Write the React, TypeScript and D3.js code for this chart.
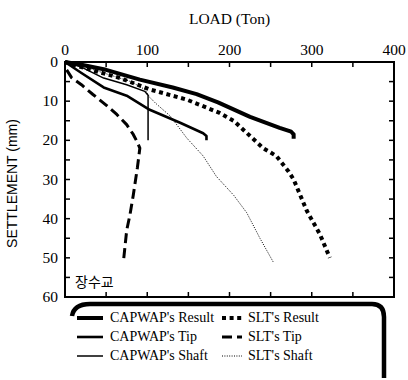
import React from "react";
import * as d3 from "d3";

// ---- data (load in Ton, settlement in mm) ----
const xTickLabels = [0, 100, 200, 300, 400];
const yTickLabels = [0, 10, 20, 30, 40, 50, 60];

const capwapResult: [number, number][] = [
  [0, 0], [20, 0.7], [50, 2], [91, 4.5], [131, 6.5], [160, 8.2], [186, 10.3],
  [225, 14], [261, 16.8], [275, 17.8], [278, 18.5], [278, 19.6],
];
const capwapTip: [number, number][] = [
  [0, 0], [20, 2.8], [47, 6.5], [75, 8.6], [103, 12.2], [140, 15.5],
  [168, 18.2], [172, 18.9], [172, 20],
];
const capwapShaft: [number, number][] = [
  [0, 0], [20, 1.3], [47, 4.1], [75, 5.8], [97, 7.5], [101, 8.5], [101, 20],
];
const sltResult: [number, number][] = [
  [0, 0], [10, 0.7], [40, 2.5], [67, 4.1], [103, 7], [148, 9.6], [188, 13],
  [205, 15], [241, 22], [257, 24], [272, 28], [278, 30], [294, 38], [310, 44], [322, 50],
];
const sltTip: [number, number][] = [
  [2, 2], [8, 4], [20, 5.8], [34, 8.3], [50, 11], [63, 13.4], [75, 16],
  [83, 18.5], [88, 20.5], [91, 22], [88, 27], [83, 34], [79, 39], [75, 43], [71, 51],
];
const sltShaft: [number, number][] = [
  [0, 0], [20, 1], [50, 3], [80, 5], [97, 7], [103, 9], [110, 10.5], [128, 13.8],
  [148, 19.4], [168, 24], [184, 29.2], [205, 34], [221, 38.5], [237, 45], [253, 51],
];

const seriesNames = [
  "CAPWAP's Result", "SLT's Result",
  "CAPWAP's Tip", "SLT's Tip",
  "CAPWAP's Shaft", "SLT's Shaft",
];

type Style = { w: number; dash?: string; cap?: string };
const styles: Record<string, Style> = {
  "CAPWAP's Result": { w: 4 },
  "CAPWAP's Tip": { w: 2.6 },
  "CAPWAP's Shaft": { w: 1.5 },
  "SLT's Result": { w: 4, dash: "4 3.6" },
  "SLT's Tip": { w: 3, dash: "10 5" },
  "SLT's Shaft": { w: 1, dash: "1 1.4" },
};
const seriesData: Record<string, [number, number][]> = {
  "CAPWAP's Result": capwapResult,
  "CAPWAP's Tip": capwapTip,
  "CAPWAP's Shaft": capwapShaft,
  "SLT's Result": sltResult,
  "SLT's Tip": sltTip,
  "SLT's Shaft": sltShaft,
};

export default function App() {
  const W = 408, H = 380;
  const L = 65, R = 394, T = 62, B = 297;
  const x = d3.scaleLinear().domain([0, 400]).range([L, R]);
  const y = d3.scaleLinear().domain([0, 60]).range([T, B]);
  const line = d3.line<[number, number]>().x((d) => x(d[0])).y((d) => y(d[1]));
  const minorX = d3.range(0, 401, 50);
  const minorY = d3.range(0, 61, 5);
  const serif = "'Liberation Serif', 'DejaVu Serif', serif";
  const sans = "'Liberation Sans', Arial, sans-serif";
  const tk = 5;

  const rowsY = [322, 341, 360];
  const colSym = [[77, 103], [222, 242]];
  const colText = [110, 248];

  return (
    <svg width={W} height={H} style={{ position: "absolute", left: 0, top: 0, background: "#fff" }}>
      {/* title */}
      <text x={(L + R) / 2} y={24} textAnchor="middle" fontFamily={serif} fontSize={15.5}>
        LOAD (Ton)
      </text>
      {/* y label */}
      <text
        transform={`translate(17,${(T + B) / 2 + 4}) rotate(-90)`}
        textAnchor="middle"
        fontFamily={sans}
        fontSize={14}
      >
        SETTLEMENT (mm)
      </text>

      {/* ticks */}
      {minorX.map((v) => (
        <g key={"tx" + v}>
          <line x1={x(v)} x2={x(v)} y1={T} y2={T + tk} stroke="#000" strokeWidth={1.5} />
          <line x1={x(v)} x2={x(v)} y1={B} y2={B - tk} stroke="#000" strokeWidth={1.5} />
        </g>
      ))}
      {minorY.map((v) => (
        <g key={"ty" + v}>
          <line x1={L} x2={L + tk} y1={y(v)} y2={y(v)} stroke="#000" strokeWidth={1.5} />
          <line x1={R} x2={R - tk} y1={y(v)} y2={y(v)} stroke="#000" strokeWidth={1.5} />
        </g>
      ))}
      {xTickLabels.map((v) => (
        <text key={"lx" + v} x={x(v)} y={55} textAnchor="middle" fontFamily={serif} fontSize={15.5}>
          {v}
        </text>
      ))}
      {yTickLabels.map((v) => (
        <text key={"ly" + v} x={58} y={y(v) + 5} textAnchor="end" fontFamily={serif} fontSize={15.5}>
          {v}
        </text>
      ))}

      {/* frame */}
      <rect x={L} y={T} width={R - L} height={B - T} fill="none" stroke="#000" strokeWidth={2} />

      {/* series */}
      {Object.keys(seriesData).map((k) => (
        <path
          key={k}
          d={line(seriesData[k]) || ""}
          fill="none"
          stroke="#000"
          strokeWidth={styles[k].w}
          strokeDasharray={styles[k].dash}
          strokeLinejoin="round"
        />
      ))}

      <text x={75} y={287} fontFamily="'Noto Sans CJK KR', sans-serif" fontSize={14}>
        장수교
      </text>

      {/* legend box */}
      <path
        d="M 72,316 Q 74,304 90,304 L 372,304 Q 384,304 384,317 L 384,378"
        fill="none"
        stroke="#000"
        strokeWidth={4.5}
      />
      {seriesNames.map((name, i) => {
        const col = i % 2;
        const row = Math.floor(i / 2);
        const yy = rowsY[row];
        const s = styles[name];
        return (
          <g key={name}>
            <line
              x1={colSym[col][0]}
              x2={colSym[col][1]}
              y1={yy - 4}
              y2={yy - 4}
              stroke="#000"
              strokeWidth={s.w}
              strokeDasharray={s.dash}
            />
            <text x={colText[col]} y={yy} fontFamily={serif} fontSize={14}>
              {name}
            </text>
          </g>
        );
      })}
    </svg>
  );
}
